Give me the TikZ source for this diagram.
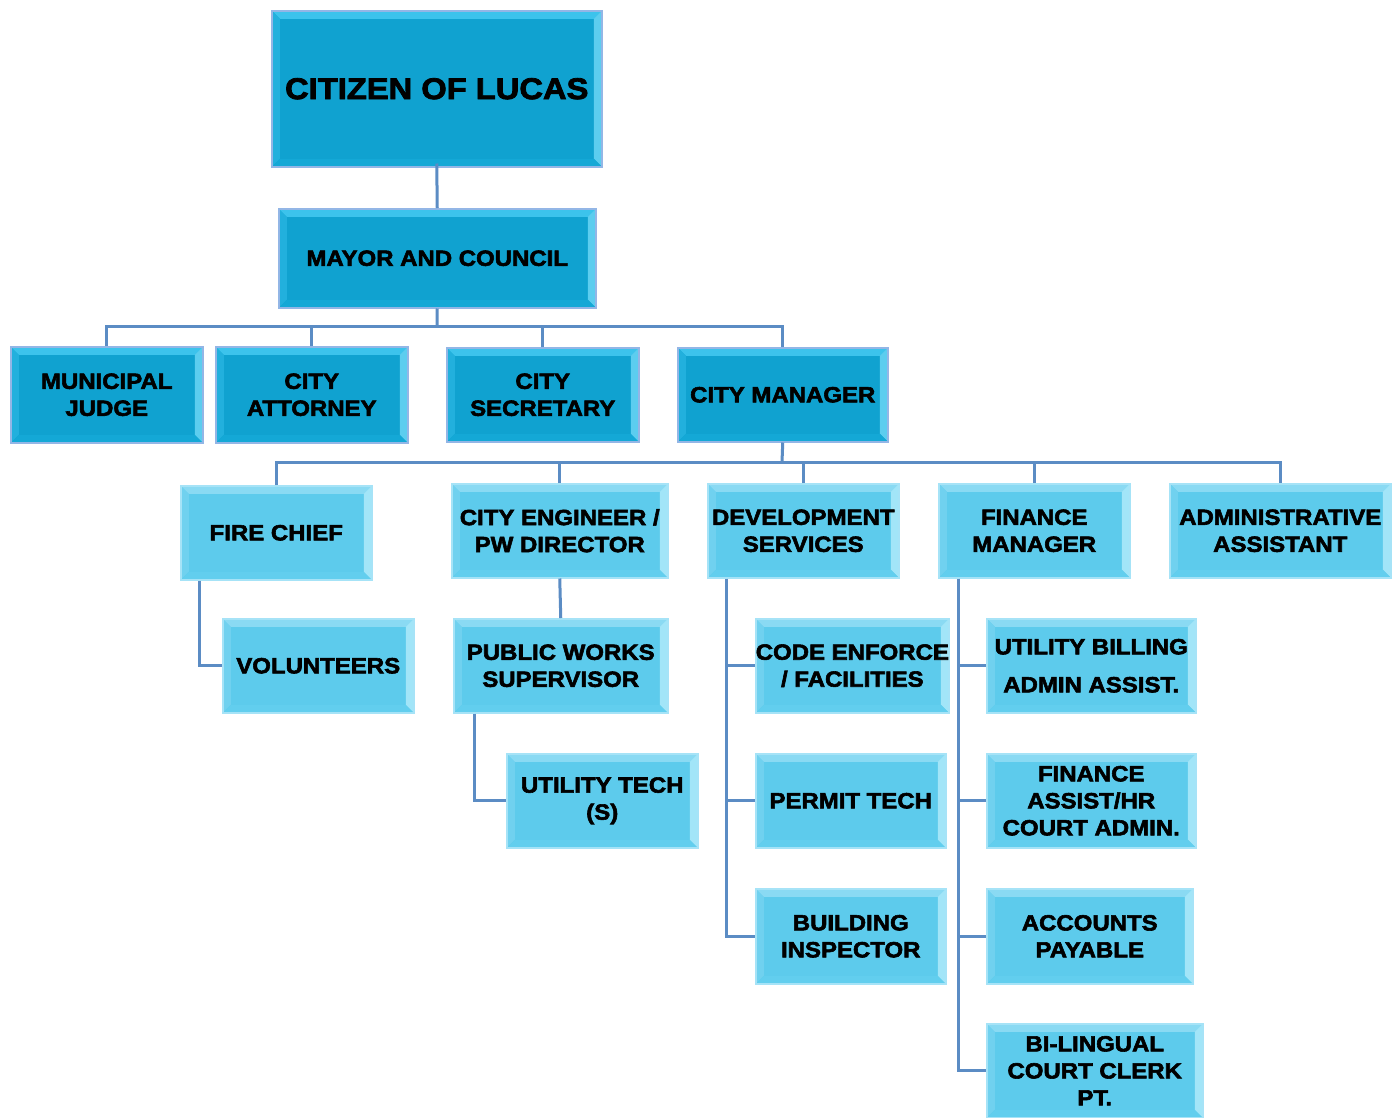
\documentclass[tikz,border=0pt]{standalone}
\usepackage{fontspec}
\newfontfamily\boxfont{Liberation Sans}[FakeStretch=1.09, BoldFeatures={FakeBold=2.6}]
\definecolor{darkfill}{HTML}{10A2D0}
\definecolor{darktop}{HTML}{3CC3EC}
\definecolor{darkleft}{HTML}{22B0DD}
\definecolor{darkright}{HTML}{5CCDEF}
\definecolor{darkbot}{HTML}{14A8D6}
\definecolor{darkborder}{HTML}{93B6E6}
\definecolor{lightfill}{HTML}{5DCBEC}
\definecolor{lighttop}{HTML}{8ADAF3}
\definecolor{lightleft}{HTML}{70D1EF}
\definecolor{lightright}{HTML}{A2E5F8}
\definecolor{lightbot}{HTML}{62CEEE}
\definecolor{lightborder}{HTML}{A6E3F7}
\definecolor{linecol}{HTML}{5B8CC4}
\tikzset{
  bevel/.style n args={4}{path picture={
    \fill[#1] (path picture bounding box.north west) -- (path picture bounding box.north east)
      -- ([shift={(-8pt,-8pt)}]path picture bounding box.north east) -- ([shift={(8pt,-8pt)}]path picture bounding box.north west) -- cycle;
    \fill[#2] (path picture bounding box.north west) -- ([shift={(8pt,-8pt)}]path picture bounding box.north west)
      -- ([shift={(8pt,8pt)}]path picture bounding box.south west) -- (path picture bounding box.south west) -- cycle;
    \fill[#3] (path picture bounding box.north east) -- ([shift={(-8pt,-8pt)}]path picture bounding box.north east)
      -- ([shift={(-8pt,8pt)}]path picture bounding box.south east) -- (path picture bounding box.south east) -- cycle;
    \fill[#4] (path picture bounding box.south west) -- ([shift={(8pt,8pt)}]path picture bounding box.south west)
      -- ([shift={(-8pt,8pt)}]path picture bounding box.south east) -- (path picture bounding box.south east) -- cycle;
  }},
  orgbox/.style={rectangle, anchor=north west, inner sep=0pt, align=center, line width=1.5pt,
    font=\boxfont\bfseries\fontsize{22}{27}\selectfont, text=black},
  darkbox/.style={orgbox, fill=darkfill, draw=darkborder, bevel={darktop}{darkleft}{darkright}{darkbot}},
  lightbox/.style={orgbox, fill=lightfill, draw=lightborder, bevel={lighttop}{lightleft}{lightright}{lightbot}},
  conn/.style={draw=linecol, line width=3pt},
}
\newcommand{\mkbox}[7]{%
  \node[#6, minimum width={(#4-#2)*1pt}, minimum height={(#5-#3)*1pt}] (#1) at (#2,#3) {#7};}
\begin{document}
\begin{tikzpicture}[x=1pt,y=-1pt]
\useasboundingbox[fill=white] (0,0) rectangle (1395,1117);
\coordinate (b1) at (437,326);
\coordinate (b2) at (782,462);
% boxes
\mkbox{citizen}{271}{10}{601}{166}{darkbox,font=\boxfont\bfseries\fontsize{30}{34}\selectfont}{CITIZEN OF LUCAS}
\mkbox{mayor}{278}{208}{595}{307}{darkbox}{MAYOR AND COUNCIL}
\mkbox{judge}{10}{346}{202}{442}{darkbox}{MUNICIPAL\\JUDGE}
\mkbox{attorney}{215}{346}{407}{442}{darkbox}{CITY\\ATTORNEY}
\mkbox{secretary}{446}{347}{638}{441}{darkbox}{CITY\\SECRETARY}
\mkbox{manager}{677}{347}{887}{441}{darkbox}{CITY MANAGER}
\mkbox{fire}{180}{485}{371}{579}{lightbox}{FIRE CHIEF}
\mkbox{engineer}{451}{483}{667}{577}{lightbox}{CITY ENGINEER /\\PW DIRECTOR}
\mkbox{dev}{707}{483}{898}{577}{lightbox}{DEVELOPMENT\\SERVICES}
\mkbox{finance}{938}{483}{1129}{577}{lightbox}{FINANCE\\MANAGER}
\mkbox{admin}{1169}{483}{1390}{577}{lightbox}{ADMINISTRATIVE\\ASSISTANT}
\mkbox{vol}{222}{618}{413}{712}{lightbox}{VOLUNTEERS}
\mkbox{pws}{453}{618}{667}{712}{lightbox}{PUBLIC WORKS\\SUPERVISOR}
\mkbox{ut}{506}{753}{697}{847}{lightbox}{UTILITY TECH\\(S)}
\mkbox{code}{755}{618}{945}{712}{lightbox}{CODE ENFORCE\\/ FACILITIES}
\mkbox{permit}{755}{753}{945}{847}{lightbox}{PERMIT TECH}
\mkbox{build}{755}{888}{945}{983}{lightbox}{BUILDING\\INSPECTOR}
\mkbox{billing}{986}{618}{1195}{712}{lightbox,font=\boxfont\bfseries\fontsize{22}{38}\selectfont}{UTILITY BILLING\\ADMIN ASSIST.}
\mkbox{fahr}{986}{753}{1195}{847}{lightbox}{FINANCE\\ASSIST/HR\\COURT ADMIN.}
\mkbox{ap}{986}{888}{1192}{983}{lightbox}{ACCOUNTS\\PAYABLE}
\mkbox{clerk}{986}{1023}{1202}{1117}{lightbox}{BI-LINGUAL\\COURT CLERK\\PT.}
% connectors
\draw[conn] (citizen.south) ++(0,4pt) -- (mayor.north);
\draw[conn] (mayor.south) -- (b1);
\draw[conn] (judge.north) -- (judge.north |- b1) -- (manager.north |- b1) -- (manager.north);
\draw[conn] (attorney.north) -- (attorney.north |- b1);
\draw[conn] (secretary.north) -- (secretary.north |- b1);
\draw[conn] (manager.south) -- (b2);
\draw[conn] (fire.north) -- (fire.north |- b2) -- (admin.north |- b2) -- (admin.north);
\draw[conn] (engineer.north) -- (engineer.north |- b2);
\draw[conn] (dev.north) -- (dev.north |- b2);
\draw[conn] (finance.north) -- (finance.north |- b2);
\coordinate (fc) at ([xshift=19pt]fire.south west);
\draw[conn] (fc) |- (vol.west);
\draw[conn] (engineer.south) -- (pws.north);
\coordinate (pc) at ([xshift=21pt]pws.south west);
\draw[conn] (pc) |- (ut.west);
\coordinate (dc) at ([xshift=19pt]dev.south west);
\draw[conn] (dc) |- (build.west);
\draw[conn] (code.west) -- (dc |- code.west);
\draw[conn] (permit.west) -- (dc |- permit.west);
\coordinate (fm) at ([xshift=20pt]finance.south west);
\draw[conn] (fm) |- (clerk.west);
\draw[conn] (billing.west) -- (fm |- billing.west);
\draw[conn] (fahr.west) -- (fm |- fahr.west);
\draw[conn] (ap.west) -- (fm |- ap.west);
\end{tikzpicture}
\end{document}
